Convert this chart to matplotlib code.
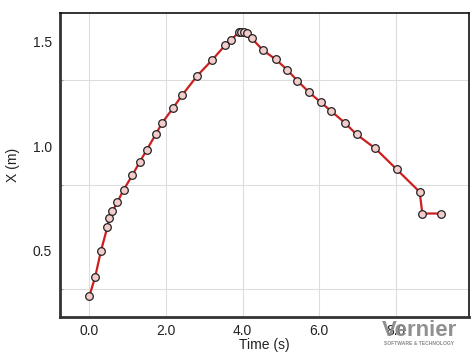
import matplotlib
matplotlib.use('Agg')
import matplotlib.pyplot as plt
import numpy as np

plt.rcParams['font.family'] = ['Liberation Sans', 'DejaVu Sans']

# position vs time
t = [0.00, 0.15, 0.30, 0.47, 0.52, 0.60, 0.73, 0.89, 1.12, 1.31,
     1.50, 1.74, 1.90, 2.18, 2.42, 2.82, 3.21, 3.55, 3.70, 3.90,
     3.96, 4.03, 4.11, 4.24, 4.53, 4.87, 5.16, 5.43, 5.74, 6.04,
     6.31, 6.67, 6.98, 7.47, 8.03, 8.63, 8.70, 9.20]
x = [0.286, 0.377, 0.500, 0.616, 0.659, 0.690, 0.734, 0.791, 0.862, 0.924,
     0.984, 1.060, 1.112, 1.182, 1.244, 1.338, 1.413, 1.484, 1.507, 1.545,
     1.545, 1.545, 1.540, 1.516, 1.460, 1.415, 1.367, 1.314, 1.258, 1.211,
     1.169, 1.113, 1.057, 0.990, 0.890, 0.782, 0.679, 0.679]

xticks = [0, 2, 4, 6, 8]
xtick_labels = ['0.0', '2.0', '4.0', '6.0', '8.0']
ygrid = [0.316, 0.816, 1.316]
ylabels_at = [0.5, 1.0, 1.5]
ytick_labels = ['0.5', '1.0', '1.5']

fig = plt.figure(figsize=(4.74, 3.55), dpi=100)
ax = fig.add_axes([0.1266, 0.1079, 0.8629, 0.8555])

ax.plot(t, x, '-', color='#cc1f1f', lw=1.6, zorder=3)
ax.plot(t, x, 'o', ms=5.5, mfc='#f5cccc', mec='#222222', mew=0.9, zorder=4)

ax.set_xlim(-0.77, 9.92)
ax.set_ylim(0.186, 1.637)

ax.set_xticks(xticks)
ax.set_xticklabels(xtick_labels)
ax.set_yticks(ygrid)
ax.set_yticklabels([])
ax.set_yticks(ylabels_at, minor=True)
ax.set_yticklabels(ytick_labels, minor=True)
ax.tick_params(axis='y', which='minor', length=0, labelsize=10, pad=6, colors='#222222')
ax.tick_params(axis='y', which='major', direction='in', length=2, color='#999999')
ax.tick_params(axis='x', length=0, labelsize=10, pad=5, colors='#222222')
ax.grid(True, which='major', color='#dddddd', lw=0.8)

for side in ['top', 'right']:
    ax.spines[side].set_color('#111111')
    ax.spines[side].set_linewidth(1.2)
for side in ['left', 'bottom']:
    ax.spines[side].set_color('#333333')
    ax.spines[side].set_linewidth(2)

ax.set_xlabel('Time (s)', fontsize=10, labelpad=0, color='#222222')
ax.set_ylabel('X (m)', fontsize=10, labelpad=9, color='#222222')

# logo
fig.text(0.885, 0.07, 'Vernier', fontsize=16, fontweight='bold', color='#8a8a8a',
         ha='center', va='center', alpha=0.95)
fig.text(0.885, 0.032, 'SOFTWARE & TECHNOLOGY', fontsize=3.6, fontweight='bold',
         color='#8a8a8a', ha='center', va='center')

fig.savefig('out.png', dpi=100)
